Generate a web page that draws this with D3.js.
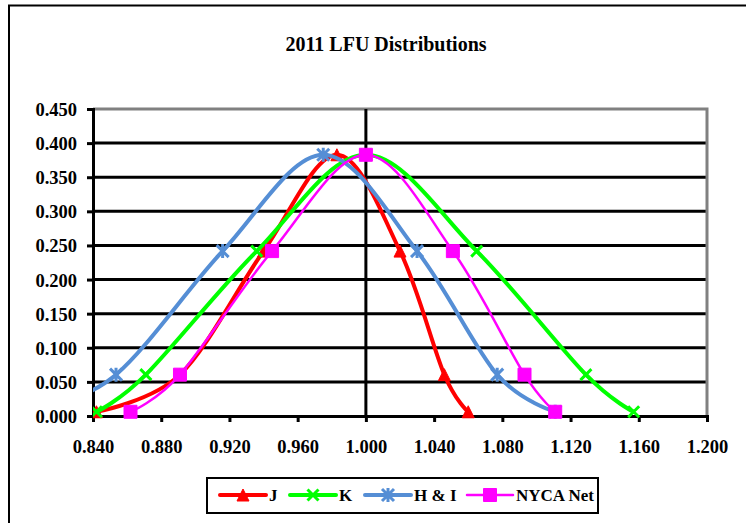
<!DOCTYPE html>
<html>
<head>
<meta charset="utf-8">
<title>2011 LFU Distributions</title>
<script src="https://d3js.org/d3.v7.min.js"></script>
<style>
  body { margin: 0; background: #fff; }
  text { font-family: "Liberation Serif", "Times New Roman", serif; font-weight: bold; fill: #000; }
</style>
</head>
<body>
<div id="chart"></div>
<script>
// DATA
const xTicks = [0.84, 0.88, 0.92, 0.96, 1.00, 1.04, 1.08, 1.12, 1.16, 1.20];
const yTicks = [0, 0.05, 0.10, 0.15, 0.20, 0.25, 0.30, 0.35, 0.40, 0.45];
const prob   = [0.0062, 0.0606, 0.2417, 0.3829, 0.2417, 0.0606, 0.0062];
const jX     = [0.842, 0.891, 0.940, 0.983, 1.020, 1.046, 1.060];
const kX     = [0.842, 0.871, 0.936, 1.000, 1.065, 1.129, 1.157];
const hiX    = [0.805, 0.8535, 0.916, 0.975, 1.030, 1.077, 1.111];
const nycaX  = [0.862, 0.891, 0.945, 1.000, 1.051, 1.093, 1.111];
const seriesNames = ["J", "K", "H & I", "NYCA Net"];

const series = [
  { name: seriesNames[0], xs: jX,    color: "#ff0000", width: 4,   marker: "triangle" },
  { name: seriesNames[1], xs: kX,    color: "#00ff00", width: 4,   marker: "x" },
  { name: seriesNames[2], xs: hiX,   color: "#558ed5", width: 4,   marker: "star" },
  { name: seriesNames[3], xs: nycaX, color: "#ff00ff", width: 2.5, marker: "square" }
];

// SIZES
const W = 746, H = 523;
const plot = { left: 93, right: 707, top: 109, bottom: 416 };

const svg = d3.select("#chart").append("svg")
  .attr("width", W).attr("height", H);

// outer frame
svg.append("rect")
  .attr("x", 9).attr("y", 5.5)
  .attr("width", 760).attr("height", 540)
  .attr("fill", "none").attr("stroke", "#000").attr("stroke-width", 2);

svg.append("text")
  .attr("x", 386).attr("y", 51)
  .attr("text-anchor", "middle")
  .style("font-size", "20px")
  .text("2011 LFU Distributions");

const x = d3.scaleLinear().domain([0.84, 1.20]).range([plot.left, plot.right]);
const y = d3.scaleLinear().domain([0, 0.45]).range([plot.bottom, plot.top]);

// gridlines
svg.append("g").selectAll("line")
  .data(yTicks.filter(d => d > 0 && d < 0.45))
  .join("line")
  .attr("x1", plot.left).attr("x2", plot.right)
  .attr("y1", d => y(d)).attr("y2", d => y(d))
  .attr("stroke", "#000").attr("stroke-width", 3);

// plot area border (top / right)
svg.append("path")
  .attr("d", `M${plot.left},${y(0.45)}H${plot.right}V${plot.bottom}`)
  .attr("fill", "none").attr("stroke", "#808080").attr("stroke-width", 3);

// vertical line at 1.000
svg.append("line")
  .attr("x1", x(1)).attr("x2", x(1))
  .attr("y1", y(0.45)).attr("y2", y(0))
  .attr("stroke", "#000").attr("stroke-width", 3);

// axes
const yAxis = svg.append("g")
  .attr("transform", `translate(${plot.left},0)`)
  .call(d3.axisLeft(y).tickValues(yTicks).tickFormat(d3.format(".3f")).tickSize(6).tickPadding(10));
const xAxis = svg.append("g")
  .attr("transform", `translate(0,${plot.bottom})`)
  .call(d3.axisBottom(x).tickValues(xTicks).tickFormat(d3.format(".3f")).tickSize(6).tickPadding(18));
[xAxis, yAxis].forEach(a => {
  a.select(".domain").attr("stroke", "#000").attr("stroke-width", 3);
  a.selectAll(".tick line").attr("stroke", "#000").attr("stroke-width", 3);
  a.selectAll(".tick text").style("font-size", "18.5px").attr("font-family", null);
});
yAxis.selectAll(".tick text").attr("dy", "0.35em");

// clip to plot area
svg.append("clipPath").attr("id", "clip")
  .append("rect")
  .attr("x", plot.left).attr("y", plot.top - 10)
  .attr("width", plot.right - plot.left + 10).attr("height", plot.bottom - plot.top + 20);

const line = d3.line()
  .x(d => x(d[0])).y(d => y(d[1]))
  .curve(d3.curveCatmullRom.alpha(0));

function markerPath(type, s) {
  const h = s / 2;
  if (type === "triangle") return `M0,${-h}L${h},${h}L${-h},${h}Z`;
  if (type === "square") return `M${-h},${-h}H${h}V${h}H${-h}Z`;
  if (type === "x") return `M${-h},${-h}L${h},${h}M${-h},${h}L${h},${-h}`;
  return `M${-h},${-h}L${h},${h}M${-h},${h}L${h},${-h}M0,${-h - 1}V${h + 1}`;
}
function drawMarker(g, type, color) {
  const filled = type === "triangle" || type === "square";
  const size = { triangle: 12, square: 13, x: 11, star: 12 }[type];
  g.append("path")
    .attr("d", markerPath(type, size))
    .attr("fill", filled ? color : "none")
    .attr("stroke", color)
    .attr("stroke-width", filled ? 1 : 3);
}

const chart = svg.append("g").attr("clip-path", "url(#clip)");
series.forEach(s => {
  const pts = s.xs.map((v, i) => [v, prob[i]]);
  const g = chart.append("g");
  g.append("path")
    .attr("d", line(pts))
    .attr("fill", "none")
    .attr("stroke", s.color)
    .attr("stroke-width", s.width)
    .attr("stroke-linejoin", "round");
  g.selectAll(".m")
    .data(pts.filter(p => p[0] >= 0.84))
    .join("g")
    .attr("class", "m")
    .attr("transform", d => `translate(${x(d[0])},${y(d[1])})`)
    .each(function () { drawMarker(d3.select(this), s.marker, s.color); });
});

// legend
const legend = svg.append("g");
legend.append("rect")
  .attr("x", 207).attr("y", 478).attr("width", 391).attr("height", 35)
  .attr("fill", "#fff").attr("stroke", "#000").attr("stroke-width", 2);
const legX = [220, 290, 365, 467];
series.forEach((s, i) => {
  const g = legend.append("g").attr("transform", `translate(${legX[i]},495)`);
  g.append("line")
    .attr("x1", 0).attr("x2", 46)
    .attr("stroke", s.color).attr("stroke-width", s.width)
    .attr("stroke-linecap", "round");
  const m = g.append("g").attr("transform", "translate(23,0)");
  drawMarker(m, s.marker, s.color);
  g.append("text")
    .attr("x", 49).attr("dy", "0.35em")
    .style("font-size", "17px")
    .text(s.name);
});
</script>
</body>
</html>
